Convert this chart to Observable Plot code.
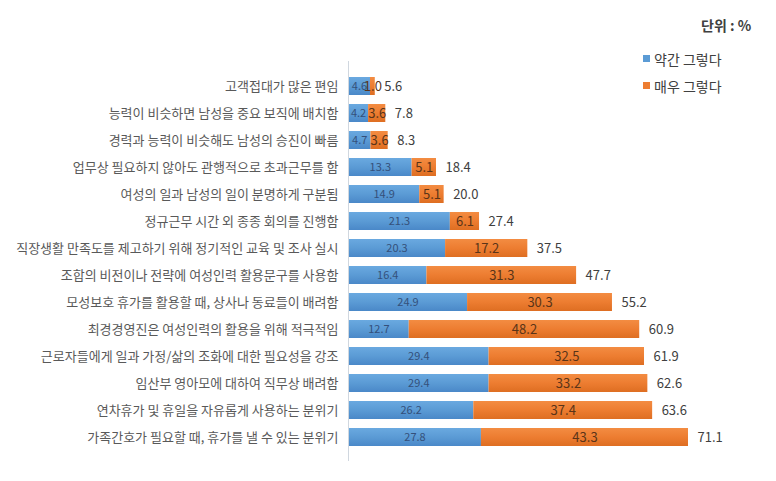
<!DOCTYPE html>
<html>
<head>
<meta charset="utf-8">
<script src="https://cdn.jsdelivr.net/npm/d3@7"></script>
<script src="https://cdn.jsdelivr.net/npm/@observablehq/plot@0.6"></script>
<style>
  html, body { margin: 0; padding: 0; background: #fff; }
  #wrap { position: relative; width: 776px; height: 481px; font-family: "Noto Sans CJK KR", "Noto Sans", sans-serif; }
  #legend { position: absolute; left: 643px; top: 15px; color: #404040; font-size: 14px; }
  #legend .unit { font-weight: bold; margin-left: 58px; margin-bottom: 10px; }
  #legend .item { display: flex; align-items: center; height: 27px; }
  #legend .sw { width: 7px; height: 7px; margin-right: 4px; }
</style>
</head>
<body>
<div id="wrap"><div id="chart"></div><div id="legend"></div></div>
<script>
const categories = [
  "고객접대가 많은 편임",
  "능력이 비슷하면 남성을 중요 보직에 배치함",
  "경력과 능력이 비슷해도 남성의 승진이 빠름",
  "업무상 필요하지 않아도 관행적으로 초과근무를 함",
  "여성의 일과 남성의 일이 분명하게 구분됨",
  "정규근무 시간 외 종종 회의를 진행함",
  "직장생활 만족도를 제고하기 위해 정기적인 교육 및 조사 실시",
  "조합의 비전이나 전략에 여성인력 활용문구를 사용함",
  "모성보호 휴가를 활용할 때, 상사나 동료들이 배려함",
  "최경경영진은 여성인력의 활용을 위해 적극적임",
  "근로자들에게 일과 가정/삶의 조화에 대한 필요성을 강조",
  "임산부 영아모에 대하여 직무상 배려함",
  "연차휴가 및 휴일을 자유롭게 사용하는 분위기",
  "가족간호가 필요할 때, 휴가를 낼 수 있는 분위기"
];
const seriesNames = ["약간 그렇다", "매우 그렇다"];
const mild   = [4.6, 4.2, 4.7, 13.3, 14.9, 21.3, 20.3, 16.4, 24.9, 12.7, 29.4, 29.4, 26.2, 27.8];
const strong = [1.0, 3.6, 3.6, 5.1, 5.1, 6.1, 17.2, 31.3, 30.3, 48.2, 32.5, 33.2, 37.4, 43.3];
const totals = [5.6, 7.8, 8.3, 18.4, 20.0, 27.4, 37.5, 47.7, 55.2, 60.9, 61.9, 62.6, 63.6, 71.1];
const colors = ["#5b9bd5", "#ed7d31"];

const rows = categories.map((c, i) => ({cat: c, mild: mild[i], strong: strong[i], total: totals[i]}));
const long = [];
rows.forEach(r => {
  long.push({cat: r.cat, series: seriesNames[0], value: r.mild});
  long.push({cat: r.cat, series: seriesNames[1], value: r.strong});
});

const chart = Plot.plot({
  width: 776,
  height: 481,
  marginLeft: 348,
  marginRight: 88,
  marginTop: 61,
  marginBottom: 20,
  style: {fontFamily: '"Noto Sans CJK KR", "Noto Sans", sans-serif', background: "#fff"},
  x: {domain: [0, 71.1], axis: null},
  y: {domain: categories, padding: 0.34, label: null, axis: null},
  color: {domain: seriesNames, range: ["url(#gradBlue)", "url(#gradOrange)"]},
  marks: [
    Plot.barX(long, {x: "value", y: "cat", fill: "series", order: seriesNames}),
    Plot.axisY({tickSize: 0, tickPadding: 10, fontSize: 13, fill: "#595959", label: null}),
    Plot.ruleX([0], {stroke: "#d0d7df", strokeWidth: 1}),
    Plot.text(rows, {x: d => d.mild / 2, y: "cat", text: d => d.mild.toFixed(1), fill: "#34507a", fontSize: 11}),
    Plot.text(rows, {x: d => d.mild + d.strong / 2, y: "cat", text: d => d.strong.toFixed(1), fill: "#5a3418", fontSize: 13}),
    Plot.text(rows, {x: "total", y: "cat", text: d => d.total.toFixed(1), textAnchor: "start", dx: 9, fill: "#404040", fontSize: 13})
  ]
});
const ns = "http://www.w3.org/2000/svg";
const defs = document.createElementNS(ns, "defs");
defs.innerHTML = `
  <linearGradient id="gradBlue" x1="0" y1="0" x2="0" y2="1">
    <stop offset="0" stop-color="#6aa9e0"/><stop offset="0.5" stop-color="#5b9bd5"/><stop offset="1" stop-color="#4a88c8"/>
  </linearGradient>
  <linearGradient id="gradOrange" x1="0" y1="0" x2="0" y2="1">
    <stop offset="0" stop-color="#f38c42"/><stop offset="0.5" stop-color="#ed7d31"/><stop offset="1" stop-color="#de6e22"/>
  </linearGradient>`;
chart.insertBefore(defs, chart.firstChild);
document.getElementById("chart").appendChild(chart);

const legend = document.getElementById("legend");
legend.innerHTML = '<div class="unit">단위 : %</div>' +
  seriesNames.map((s, i) => `<div class="item"><span class="sw" style="background:${colors[i]}"></span>${s}</div>`).join("");
</script>
</body>
</html>
